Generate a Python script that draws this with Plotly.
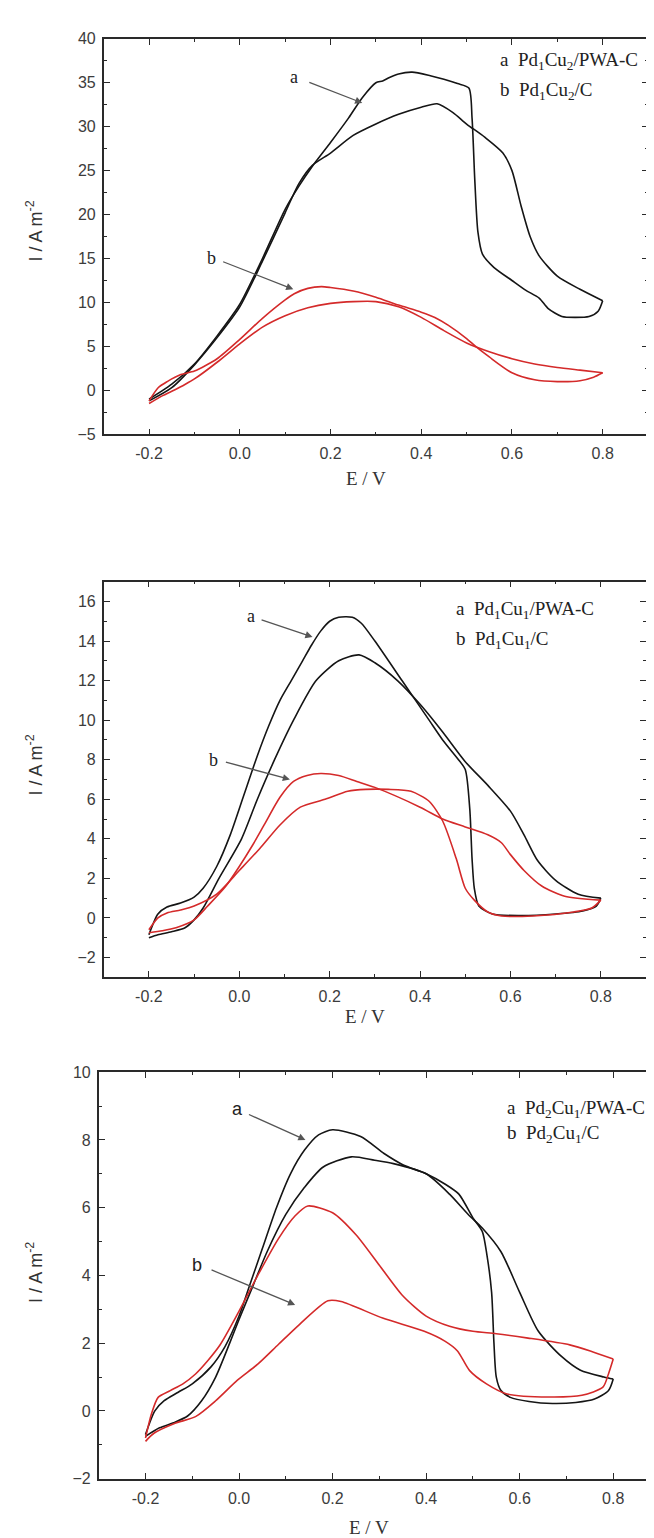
import plotly.graph_objects as go

# ---------------- data ----------------
# Panel 1 : Pd1Cu2
p1_a_fwd_E = [-0.2, -0.15, -0.1, -0.05, 0.0, 0.05, 0.1, 0.13, 0.16, 0.2, 0.25, 0.3, 0.35, 0.4, 0.435,
              0.47, 0.5, 0.54, 0.58, 0.6, 0.62, 0.64, 0.66, 0.7, 0.75, 0.8]
p1_a_fwd_I = [-1.2, 0.3, 2.9, 6.0, 9.5, 14.7, 20.2, 23.5, 25.6, 27.0, 29.0, 30.3, 31.4, 32.2, 32.6,
              31.6, 30.3, 28.8, 27.0, 25.0, 21.0, 17.5, 15.3, 13.0, 11.5, 10.2]
p1_a_bwd_E = [0.8, 0.79, 0.77, 0.74, 0.71, 0.68, 0.66, 0.63, 0.6, 0.56, 0.535, 0.525, 0.518, 0.512, 0.505,
              0.48, 0.45, 0.42, 0.38, 0.35, 0.33, 0.315, 0.3, 0.27, 0.24, 0.2, 0.16, 0.13, 0.1, 0.05,
              0.0, -0.05, -0.1, -0.15, -0.2]
p1_a_bwd_I = [10.2, 9.0, 8.4, 8.3, 8.4, 9.3, 10.5, 11.4, 12.5, 14.0, 15.5, 18.0, 24.0, 31.0, 34.4,
              34.9, 35.4, 35.8, 36.2, 36.0, 35.6, 35.2, 35.0, 33.3, 31.0, 28.2, 25.5, 23.2, 20.6, 15.0,
              9.8, 6.2, 3.0, 0.7, -1.0]
p1_b_fwd_E = [-0.2, -0.17, -0.15, -0.12, -0.1, -0.05, 0.0, 0.05, 0.1, 0.15, 0.2, 0.25, 0.3, 0.35, 0.4,
              0.45, 0.5, 0.55, 0.6, 0.65, 0.7, 0.75, 0.8]
p1_b_fwd_I = [-1.5, -0.6, -0.1, 0.7, 1.3, 3.2, 5.3, 7.2, 8.5, 9.4, 9.9, 10.1, 10.1, 9.5, 8.3,
              6.8, 5.4, 4.4, 3.6, 3.0, 2.6, 2.3, 2.0]
p1_b_bwd_E = [0.8, 0.78, 0.75, 0.7, 0.65, 0.6, 0.55, 0.52, 0.5, 0.46, 0.43, 0.4, 0.35, 0.3, 0.25, 0.2,
              0.18, 0.15, 0.12, 0.1, 0.05, 0.0, -0.05, -0.1, -0.13, -0.16, -0.18, -0.2]
p1_b_bwd_I = [2.0, 1.5, 1.1, 1.0, 1.2, 2.0, 3.8, 5.0, 5.9, 7.4, 8.3, 8.9, 9.7, 10.6, 11.3, 11.7,
              11.8, 11.6, 11.0, 10.3, 8.2, 5.8, 3.6, 2.2, 1.8, 1.0, 0.3, -1.2]

# Panel 2 : Pd1Cu1
p2_a_fwd_E = [-0.2, -0.18, -0.15, -0.12, -0.1, -0.08, -0.045, 0.005, 0.04, 0.078, 0.12, 0.17, 0.22, 0.265,
              0.3, 0.35, 0.4, 0.45, 0.5, 0.55, 0.6, 0.63, 0.66, 0.7, 0.75, 0.8]
p2_a_fwd_I = [-1.0, -0.85, -0.7, -0.5, -0.1, 0.5, 2.0, 4.0, 6.0, 8.0, 10.0, 12.0, 13.0, 13.3,
              12.9, 12.0, 10.8, 9.4, 7.9, 6.7, 5.4, 4.2, 2.9, 1.9, 1.2, 1.0]
p2_a_bwd_E = [0.8, 0.79, 0.76, 0.7, 0.62, 0.56, 0.53, 0.52, 0.515, 0.51, 0.5, 0.485, 0.45, 0.42, 0.36,
              0.3, 0.27, 0.25, 0.22, 0.2, 0.18, 0.16, 0.14, 0.115, 0.09, 0.065, 0.04, 0.01, -0.02, -0.05,
              -0.08, -0.1, -0.13, -0.16, -0.18, -0.2]
p2_a_bwd_I = [1.0, 0.6, 0.35, 0.2, 0.12, 0.2, 0.6, 1.5, 3.0, 5.5, 7.5, 8.0, 9.0, 10.0, 12.0,
              14.0, 14.9, 15.2, 15.2, 15.0, 14.5, 13.8, 13.0, 12.0, 11.0, 9.7, 8.2, 6.2, 4.2, 2.6,
              1.5, 1.05, 0.75, 0.55, 0.2, -0.85]
p2_b_fwd_E = [-0.2, -0.17, -0.14, -0.1, -0.07, -0.03, 0.0, 0.03, 0.055, 0.09, 0.12, 0.15, 0.18, 0.22,
              0.26, 0.3, 0.4, 0.45, 0.5, 0.55, 0.58, 0.6, 0.63, 0.67, 0.72, 0.8]
p2_b_fwd_I = [-0.75, -0.65, -0.5, -0.1, 0.6, 1.6, 2.6, 3.7, 4.7, 6.1, 6.9, 7.2, 7.3, 7.2,
              6.9, 6.6, 5.6, 5.0, 4.6, 4.2, 3.8, 3.2, 2.4, 1.6, 1.1, 0.9]
p2_b_bwd_E = [0.8, 0.78, 0.74, 0.65, 0.58, 0.55, 0.52, 0.5, 0.48, 0.45, 0.42, 0.38, 0.33, 0.28, 0.24,
              0.19, 0.135, 0.09, 0.045, 0.0, -0.05, -0.1, -0.13, -0.16, -0.18, -0.2]
p2_b_bwd_I = [0.9, 0.5, 0.3, 0.1, 0.1, 0.3, 0.9, 1.5, 3.0, 4.9, 5.9, 6.4, 6.5, 6.5, 6.4,
              6.0, 5.6, 4.7, 3.5, 2.4, 1.2, 0.6, 0.4, 0.25, 0.0, -0.6]

# Panel 3 : Pd2Cu1
p3_a_fwd_E = [-0.2, -0.17, -0.14, -0.11, -0.08, -0.05, -0.02, 0.0, 0.03, 0.06, 0.1, 0.14, 0.18, 0.24,
              0.29, 0.33, 0.4, 0.45, 0.49, 0.52, 0.56, 0.6, 0.64, 0.69, 0.73, 0.78, 0.8]
p3_a_fwd_I = [-0.75, -0.5, -0.35, -0.15, 0.3, 1.0, 2.0, 2.7, 3.7, 4.7, 5.8, 6.6, 7.2, 7.5,
              7.4, 7.3, 7.0, 6.4, 5.8, 5.4, 4.7, 3.5, 2.35, 1.6, 1.2, 1.0, 0.94]
p3_a_bwd_E = [0.8, 0.79, 0.76, 0.72, 0.67, 0.62, 0.58, 0.56, 0.55, 0.545, 0.54, 0.53, 0.52, 0.5, 0.47,
              0.44, 0.4, 0.35, 0.31, 0.26, 0.2, 0.17, 0.14, 0.11, 0.08, 0.05, 0.02, 0.0, -0.03, -0.06,
              -0.1, -0.13, -0.16, -0.18, -0.2]
p3_a_bwd_I = [0.94, 0.6, 0.35, 0.25, 0.22, 0.28, 0.4, 0.6, 1.0, 2.0, 3.5, 4.6, 5.3, 5.7, 6.4,
              6.7, 7.0, 7.27, 7.6, 8.1, 8.3, 8.15, 7.7, 7.0, 6.0, 4.8, 3.6, 2.8, 1.9, 1.3,
              0.8, 0.55, 0.3, 0.0, -0.7]
p3_b_fwd_E = [-0.2, -0.187, -0.173, -0.147, -0.12, -0.093, -0.067, -0.04, -0.004, 0.04, 0.084, 0.12, 0.147,
              0.2, 0.25, 0.3, 0.35, 0.4, 0.45, 0.5, 0.55, 0.618, 0.707, 0.751, 0.8]
p3_b_fwd_I = [-0.8, -0.08, 0.4, 0.6, 0.8, 1.09, 1.48, 1.96, 2.84, 4.0, 5.08, 5.76, 6.05,
              5.85, 5.2, 4.3, 3.4, 2.8, 2.5, 2.35, 2.28, 2.15, 1.95, 1.77, 1.53]
p3_b_bwd_E = [0.8, 0.79, 0.778, 0.733, 0.662, 0.573, 0.529, 0.493, 0.467, 0.44, 0.396, 0.307, 0.218, 0.19,
              0.129, 0.084, 0.04, -0.004, -0.049, -0.093, -0.138, -0.182, -0.2]
p3_b_bwd_I = [1.53, 1.1, 0.7, 0.46, 0.41, 0.5, 0.8, 1.19, 1.77, 2.06, 2.35, 2.74, 3.23, 3.25,
              2.55, 1.96, 1.38, 0.9, 0.31, -0.17, -0.37, -0.66, -0.9]

x_ticks = [-0.2, 0.0, 0.2, 0.4, 0.6, 0.8]
x_ticklabels = ["-0.2", "0.0", "0.2", "0.4", "0.6", "0.8"]

legend_a = ["a  Pd<sub>1</sub>Cu<sub>2</sub>/PWA-C", "a  Pd<sub>1</sub>Cu<sub>1</sub>/PWA-C",
            "a  Pd<sub>2</sub>Cu<sub>1</sub>/PWA-C"]
legend_b = ["b  Pd<sub>1</sub>Cu<sub>2</sub>/C", "b  Pd<sub>1</sub>Cu<sub>1</sub>/C",
            "b  Pd<sub>2</sub>Cu<sub>1</sub>/C"]

# ---------------- figure ----------------
W, H = 654, 1538
BLACK = "#151515"
RED = "#d42a2a"
AX = "#2a2a2a"
SERIF = "Liberation Serif, Times New Roman, serif"
SANS = "Liberation Sans, Arial, sans-serif"

panels = [
    dict(a_f=(p1_a_fwd_E, p1_a_fwd_I), a_b=(p1_a_bwd_E, p1_a_bwd_I),
         b_f=(p1_b_fwd_E, p1_b_fwd_I), b_b=(p1_b_bwd_E, p1_b_bwd_I),
         xpx=(96, 642), ypx=(23, 423), yr=(-5, 40), dt=5,
         xlabel_y=468, ylabel=(27, 217),
         leg=(492, 46, 76), lfont=SERIF,
         a_txt=(0.12, 35.6), a_arr=((0.15, 35.1), (0.27, 32.7)),
         b_txt=(-0.063, 15.1), b_arr=((-0.04, 14.7), (0.118, 11.5))),
    dict(a_f=(p2_a_fwd_E, p2_a_fwd_I), a_b=(p2_a_bwd_E, p2_a_bwd_I),
         b_f=(p2_b_fwd_E, p2_b_fwd_I), b_b=(p2_b_bwd_E, p2_b_bwd_I),
         xpx=(96, 640), ypx=(572, 972), yr=(-3, 17), dt=2,
         xlabel_y=1012, ylabel=(27, 757),
         leg=(447, 601, 631), lfont=SERIF,
         a_txt=(0.027, 15.25), a_arr=((0.046, 15.1), (0.162, 14.2)),
         b_txt=(-0.056, 8.0), b_arr=((-0.033, 7.9), (0.112, 7.0))),
    dict(a_f=(p3_a_fwd_E, p3_a_fwd_I), a_b=(p3_a_bwd_E, p3_a_bwd_I),
         b_f=(p3_b_fwd_E, p3_b_fwd_I), b_b=(p3_b_bwd_E, p3_b_bwd_I),
         xpx=(91, 654), ypx=(1068, 1479), yr=(-2, 10), dt=2,
         xlabel_y=1528, ylabel=(27, 1270),
         leg=(499, 1105, 1131), lfont=SANS,
         a_txt=(-0.004, 8.92), a_arr=((0.018, 8.77), (0.142, 8.0)),
         b_txt=(-0.089, 4.3), b_arr=((-0.062, 4.18), (0.12, 3.13))),
]

fig = go.Figure()
annotations = []
layout = {}

for i, p in enumerate(panels):
    n = "" if i == 0 else str(i + 1)
    xref, yref = "x" + n, "y" + n
    for key, col in (("a_f", BLACK), ("a_b", BLACK), ("b_f", RED), ("b_b", RED)):
        xs, ys = p[key]
        fig.add_trace(go.Scatter(x=xs, y=ys, mode="lines", xaxis=xref, yaxis=yref,
                                 line=dict(color=col, width=1.6, shape="spline", smoothing=0.7),
                                 showlegend=False, hoverinfo="skip"))
    xd = [p["xpx"][0] / W, min(1.0, p["xpx"][1] / W)]
    yd = [1 - p["ypx"][1] / H, 1 - p["ypx"][0] / H]
    common = dict(showline=True, linecolor=AX, linewidth=1.6, mirror="allticks",
                  ticks="inside", ticklen=6, tickwidth=1.4, tickcolor=AX,
                  showgrid=False, zeroline=False,
                  tickfont=dict(family=SANS, size=16, color="#3c3c3c"))
    layout["xaxis" + n] = dict(domain=xd, range=[-0.3, 0.9], anchor=yref,
                               tickvals=x_ticks, ticktext=x_ticklabels,
                               minor=dict(dtick=0.1, tick0=-0.3, ticks="inside", ticklen=3,
                                          tickcolor=AX, tickwidth=1.3),
                               ticklabelstandoff=4, **common)
    layout["yaxis" + n] = dict(domain=yd, range=list(p["yr"]), anchor=xref,
                               dtick=p["dt"], tick0=0,
                               minor=dict(dtick=p["dt"] / 2, ticks="inside", ticklen=3,
                                          tickcolor=AX, tickwidth=1.3),
                               ticklabelstandoff=3, **common)
    # axis titles
    xc = (p["xpx"][0] + min(p["xpx"][1], W)) / 2
    annotations.append(dict(text="E / V", xref="paper", yref="paper",
                            x=(xc - 10) / W, y=1 - p["xlabel_y"] / H, showarrow=False,
                            font=dict(family=SERIF, size=19, color="#333"),
                            xanchor="center", yanchor="middle"))
    annotations.append(dict(text="I / A m<sup>-2</sup>", xref="paper", yref="paper",
                            x=p["ylabel"][0] / W, y=1 - p["ylabel"][1] / H, showarrow=False,
                            textangle=-90, font=dict(family=SANS, size=18, color="#333"),
                            xanchor="center", yanchor="middle"))
    # legend text
    lx, la, lb = p["leg"]
    for txt, yy in ((legend_a[i], la), (legend_b[i], lb)):
        annotations.append(dict(text=txt, xref="paper", yref="paper", x=lx / W, y=1 - yy / H,
                                showarrow=False, xanchor="left", yanchor="middle",
                                font=dict(family=SERIF, size=19, color="#222")))
    # curve labels and arrows
    for lab, tkey, akey in (("a", "a_txt", "a_arr"), ("b", "b_txt", "b_arr")):
        tx, ty = p[tkey]
        annotations.append(dict(text=lab, x=tx, y=ty, xref=xref, yref=yref, showarrow=False,
                                font=dict(family=p["lfont"], size=18, color="#222")))
        (x0, y0), (x1, y1) = p[akey]
        annotations.append(dict(text="", x=x1, y=y1, ax=x0, ay=y0, xref=xref, yref=yref,
                                axref=xref, ayref=yref, showarrow=True, arrowhead=2,
                                arrowsize=1.1, arrowwidth=1.3, arrowcolor="#555"))

fig.update_layout(width=W, height=H, margin=dict(l=0, r=0, t=0, b=0),
                  paper_bgcolor="white", plot_bgcolor="white",
                  annotations=annotations, showlegend=False, **layout)

fig.write_html("out.html")
